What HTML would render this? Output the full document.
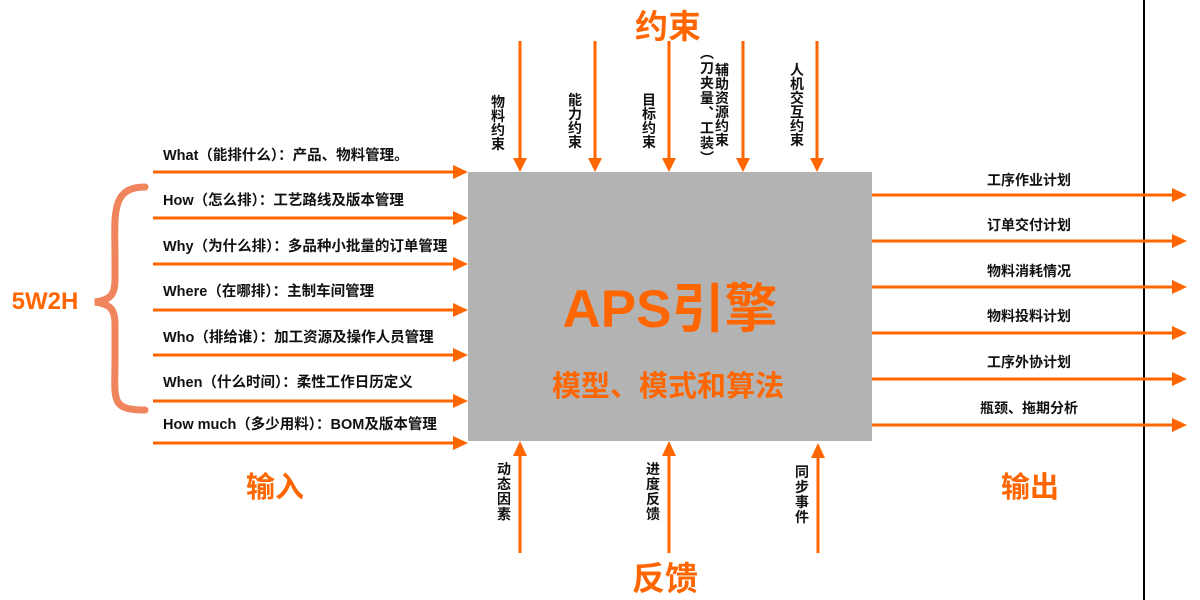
<!DOCTYPE html>
<html><head><meta charset="utf-8"><style>
html,body{margin:0;padding:0;background:#fff;}
svg{display:block;font-family:"Liberation Sans","Noto Sans CJK SC",sans-serif;}
.l{font-size:14.5px;font-weight:bold;fill:#111;}
.r{font-size:14px;font-weight:bold;fill:#111;}
.v{font-size:14px;font-weight:bold;fill:#111;text-anchor:middle;}
.o{fill:#ff6600;font-weight:bold;text-anchor:middle;}
</style></head><body>
<svg width="1200" height="600" viewBox="0 0 1200 600">
<rect x="468" y="172" width="404" height="269" fill="#b3b3b3"/>
<line x1="1144" y1="0" x2="1144" y2="600" stroke="#000" stroke-width="2"/>
<g stroke="#ff6600" stroke-width="3" fill="#ff6600">
<line x1="153" y1="172" x2="455" y2="172"/><path d="M453,165 L468,172 L453,179z" stroke="none"/>
<line x1="153" y1="218" x2="455" y2="218"/><path d="M453,211 L468,218 L453,225z" stroke="none"/>
<line x1="153" y1="264" x2="455" y2="264"/><path d="M453,257 L468,264 L453,271z" stroke="none"/>
<line x1="153" y1="310" x2="455" y2="310"/><path d="M453,303 L468,310 L453,317z" stroke="none"/>
<line x1="153" y1="355" x2="455" y2="355"/><path d="M453,348 L468,355 L453,362z" stroke="none"/>
<line x1="153" y1="401" x2="455" y2="401"/><path d="M453,394 L468,401 L453,408z" stroke="none"/>
<line x1="153" y1="443" x2="455" y2="443"/><path d="M453,436 L468,443 L453,450z" stroke="none"/>
<line x1="872" y1="195" x2="1174" y2="195"/><path d="M1172,188 L1187,195 L1172,202z" stroke="none"/>
<line x1="872" y1="241" x2="1174" y2="241"/><path d="M1172,234 L1187,241 L1172,248z" stroke="none"/>
<line x1="872" y1="287" x2="1174" y2="287"/><path d="M1172,280 L1187,287 L1172,294z" stroke="none"/>
<line x1="872" y1="333" x2="1174" y2="333"/><path d="M1172,326 L1187,333 L1172,340z" stroke="none"/>
<line x1="872" y1="379" x2="1174" y2="379"/><path d="M1172,372 L1187,379 L1172,386z" stroke="none"/>
<line x1="872" y1="425" x2="1174" y2="425"/><path d="M1172,418 L1187,425 L1172,432z" stroke="none"/>
<line x1="520" y1="41" x2="520" y2="160"/><path d="M513,158 L520,172 L527,158z" stroke="none"/>
<line x1="595" y1="41" x2="595" y2="160"/><path d="M588,158 L595,172 L602,158z" stroke="none"/>
<line x1="669" y1="41" x2="669" y2="160"/><path d="M662,158 L669,172 L676,158z" stroke="none"/>
<line x1="743" y1="41" x2="743" y2="160"/><path d="M736,158 L743,172 L750,158z" stroke="none"/>
<line x1="817" y1="41" x2="817" y2="160"/><path d="M810,158 L817,172 L824,158z" stroke="none"/>
<line x1="520" y1="553" x2="520" y2="453"/><path d="M513,456 L520,441 L527,456z" stroke="none"/>
<line x1="669" y1="553" x2="669" y2="453"/><path d="M662,456 L669,441 L676,456z" stroke="none"/>
<line x1="818" y1="553" x2="818" y2="455"/><path d="M811,458 L818,443 L825,458z" stroke="none"/>
</g>
<path d="M145,187 C110,187 115,215 115,260 L115,280 C115,295 110,300 95,302 C110,304 115,309 115,324 L115,360 C115,400 110,410 145,410" fill="none" stroke="#f0845c" stroke-width="7" stroke-linecap="round"/>
<text x="45" y="309" class="o" font-size="24">5W2H</text>
<text class="l" x="163" y="160">What（能排什么）：产品、物料管理。</text>
<text class="l" x="163" y="205">How（怎么排）：工艺路线及版本管理</text>
<text class="l" x="163" y="251">Why（为什么排）：多品种小批量的订单管理</text>
<text class="l" x="163" y="296">Where（在哪排）：主制车间管理</text>
<text class="l" x="163" y="342">Who（排给谁）：加工资源及操作人员管理</text>
<text class="l" x="163" y="387">When（什么时间）：柔性工作日历定义</text>
<text class="l" x="163" y="429">How much（多少用料）：BOM及版本管理</text>
<g class="r" text-anchor="middle">
<text x="1029" y="185">工序作业计划</text>
<text x="1029" y="230">订单交付计划</text>
<text x="1029" y="276">物料消耗情况</text>
<text x="1029" y="321">物料投料计划</text>
<text x="1029" y="367">工序外协计划</text>
<text x="1029" y="413">瓶颈、拖期分析</text>
</g>
<text class="v" x="498" y="107"><tspan x="498">物</tspan><tspan x="498" dy="14">料</tspan><tspan x="498" dy="14">约</tspan><tspan x="498" dy="14">束</tspan></text>
<text class="v" x="575" y="105"><tspan x="575">能</tspan><tspan x="575" dy="14">力</tspan><tspan x="575" dy="14">约</tspan><tspan x="575" dy="14">束</tspan></text>
<text class="v" x="649" y="105"><tspan x="649">目</tspan><tspan x="649" dy="14">标</tspan><tspan x="649" dy="14">约</tspan><tspan x="649" dy="14">束</tspan></text>
<text class="v" x="722" y="75"><tspan x="722">辅</tspan><tspan x="722" dy="14">助</tspan><tspan x="722" dy="14">资</tspan><tspan x="722" dy="14">源</tspan><tspan x="722" dy="14">约</tspan><tspan x="722" dy="14">束</tspan></text>
<text class="v" x="707" y="58"><tspan x="707">︵</tspan><tspan x="707" dy="15">刀</tspan><tspan x="707" dy="15">夹</tspan><tspan x="707" dy="15">量</tspan><tspan x="707" dy="15">︑</tspan><tspan x="707" dy="15">工</tspan><tspan x="707" dy="15">装</tspan><tspan x="707" dy="15">︶</tspan></text>
<text class="v" x="797" y="75"><tspan x="797">人</tspan><tspan x="797" dy="14">机</tspan><tspan x="797" dy="14">交</tspan><tspan x="797" dy="14">互</tspan><tspan x="797" dy="14">约</tspan><tspan x="797" dy="14">束</tspan></text>
<text class="v" x="504" y="474"><tspan x="504">动</tspan><tspan x="504" dy="15">态</tspan><tspan x="504" dy="15">因</tspan><tspan x="504" dy="15">素</tspan></text>
<text class="v" x="653" y="474"><tspan x="653">进</tspan><tspan x="653" dy="15">度</tspan><tspan x="653" dy="15">反</tspan><tspan x="653" dy="15">馈</tspan></text>
<text class="v" x="802" y="477"><tspan x="802">同</tspan><tspan x="802" dy="15">步</tspan><tspan x="802" dy="15">事</tspan><tspan x="802" dy="15">件</tspan></text>
<text x="668" y="38" class="o" font-size="33">约束</text>
<text x="665" y="590" class="o" font-size="33">反馈</text>
<text x="275" y="497" class="o" font-size="29">输入</text>
<text x="1030" y="497" class="o" font-size="29">输出</text>
<text x="670" y="327" class="o" font-size="53">APS引擎</text>
<text x="668" y="396" class="o" font-size="29">模型、模式和算法</text>
</svg>
</body></html>
